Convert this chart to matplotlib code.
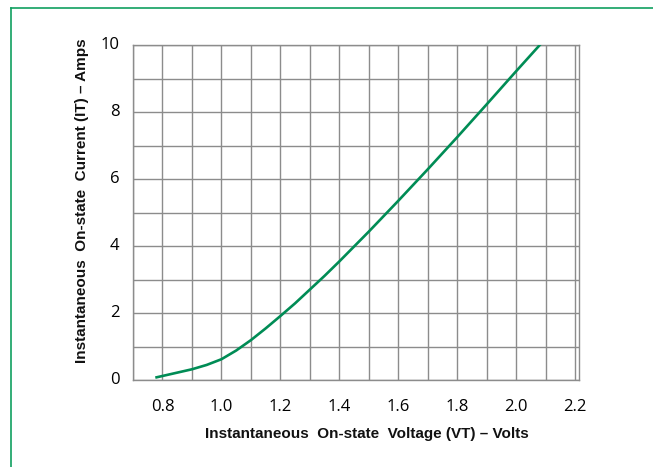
import matplotlib
matplotlib.use("Agg")
import matplotlib.pyplot as plt
from matplotlib.lines import Line2D

# on-state characteristic
vt = [0.78, 0.8, 0.85, 0.9, 0.95, 1.0, 1.05, 1.1, 1.15, 1.2, 1.25, 1.3, 1.35, 1.4,
      1.5, 1.6, 1.7, 1.8, 1.9, 2.0, 2.08]
it = [0.08, 0.12, 0.22, 0.32, 0.45, 0.62, 0.88, 1.19, 1.54, 1.91, 2.29, 2.7, 3.11, 3.54,
      4.43, 5.35, 6.29, 7.25, 8.23, 9.22, 10.0]

x_ticks = [0.8, 1.0, 1.2, 1.4, 1.6, 1.8, 2.0, 2.2]
y_ticks = [0, 2, 4, 6, 8, 10]

fig = plt.figure(figsize=(6.53, 4.67), dpi=100)
ax = fig.add_axes([133 / 653, 1 - 380 / 467, 446 / 653, 335 / 467])

ax.plot(vt, it, color="#008c55", lw=1.9, zorder=3, solid_joinstyle="round")

ax.set_xlim(0.7, 2.213)
ax.set_ylim(0, 10)
ax.set_xticks([0.7 + 0.1 * i for i in range(16)])
ax.set_yticks(range(11))
ax.grid(True, color="#8c8c8c", lw=1.0)
ax.tick_params(length=0, labelbottom=False, labelleft=False)
for s in ax.spines.values():
    s.set_color("#8c8c8c")
    s.set_linewidth(1.0)

tick_font = dict(family="Open Sans", fontsize=12, color="#000000")
for v in x_ticks:
    ax.text(v, -0.8, f"{v:.1f}", ha="center", va="center", **tick_font)
for v in y_ticks:
    ax.text(0.7 - 0.045, v, str(v), ha="right", va="center", **tick_font)

lab_font = dict(family="Liberation Sans", fontsize=11, fontweight="bold", color="#111111")
fig.text(367 / 653, 1 - 434 / 467, "Instantaneous  On-state  Voltage (VT) \u2013 Volts",
         ha="center", va="center", **lab_font)
fig.text(82 / 653, 1 - 201 / 467, "Instantaneous  On-state  Current (IT) \u2013 Amps",
         ha="center", va="center", rotation=90, **lab_font)

# green frame (left and top edges visible)
fig.add_artist(Line2D([11 / 653, 11 / 653], [0, 1 - 8 / 467], transform=fig.transFigure,
                      color="#10a060", lw=1.2))
fig.add_artist(Line2D([11 / 653, 1], [1 - 8 / 467, 1 - 8 / 467], transform=fig.transFigure,
                      color="#10a060", lw=1.2))

fig.savefig("out.png", dpi=100)
